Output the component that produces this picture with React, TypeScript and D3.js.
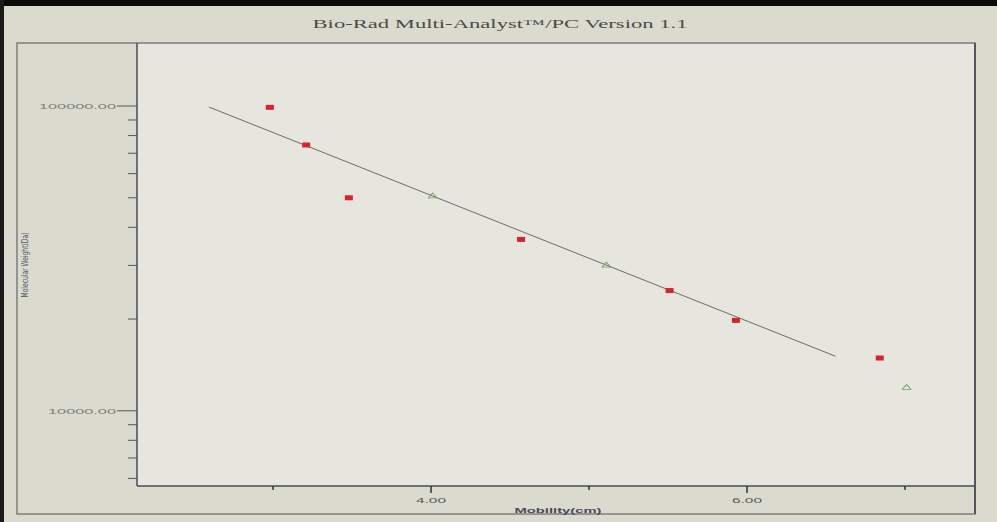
import React from 'react';
import * as d3 from 'd3';

// standards (red squares): mobility (cm) vs molecular weight (Da)
const standardMobility = [2.98, 3.21, 3.48, 4.57, 5.51, 5.93, 6.84];
const standardWeight = [99000, 74500, 50000, 36500, 24800, 19800, 14900];

// unknowns (green triangles) placed on the fit
const unknownMobility = [4.01, 5.11, 7.01];
const unknownWeight = [50600, 30000, 11900];

// regression line end points
const fitMobility = [2.595, 6.56];
const fitWeight = [99200, 15100];

const xMajorTicks = [4, 6];
const xMinorTicks = [3, 5, 7];
const yMajorTicks = [10000, 100000];
const yMinorTicks = [6000, 7000, 8000, 9000, 20000, 30000, 40000, 50000, 60000, 70000, 80000, 90000];

const W = 997;
const H = 522;
const left = 137, right = 975, top = 43, bottom = 486;

export default function App() {
  const x = d3.scaleLinear().domain([2.139, 7.443]).range([left, right]);
  const y = d3.scaleLog().domain([5665, 161000]).range([bottom, top]);

  const fitLine = d3.line<number>()
    .x((d, i) => x(fitMobility[i]))
    .y(d => y(d));

  const tri = d3.symbol().type(d3.symbolTriangle).size(22);

  return (
    <svg width={W} height={H} style={{ position: 'absolute', left: 0, top: 0 }}>
      <rect x={0} y={0} width={W} height={H} fill="#dadbce" />
      <rect x={0} y={0} width={W} height={6} fill="#0a0a0a" />
      <rect x={0} y={0} width={4} height={H} fill="#1a1a1a" />
      {/* plot interior */}
      <rect x={left} y={top} width={right - left} height={bottom - top} fill="#e6e6de" />
      {/* outer frame */}
      <rect x={17} y={top} width={right - 17} height={514 - top} fill="none" stroke="#7e7e7a" strokeWidth={1.5} />
      <line x1={right} x2={right} y1={top} y2={514} stroke="#55555e" strokeWidth={2} />

      <text x={500} y={28} textAnchor="middle" fontFamily="'Liberation Serif', serif" fontSize={12}
        fill="#4a4a48" textLength={375} lengthAdjust="spacingAndGlyphs">
        Bio-Rad Multi-Analyst™/PC Version 1.1
      </text>

      {/* axes */}
      <line x1={left} x2={left} y1={top} y2={bottom} stroke="#4a4a5a" strokeWidth={1.5} />
      <line x1={left} x2={right} y1={bottom} y2={bottom} stroke="#4a4a5a" strokeWidth={1.5} />

      {yMajorTicks.map(t => (
        <g key={'ym' + t}>
          <line x1={117} x2={left} y1={y(t)} y2={y(t)} stroke="#55555e" strokeWidth={1} />
          <text x={116} y={y(t) + 3} textAnchor="end" fontFamily="'Liberation Sans', sans-serif" fontSize={8}
            fill="#7c7c7c" textLength={t === 100000 ? 77 : 68} lengthAdjust="spacingAndGlyphs">
            {d3.format('.2f')(t)}
          </text>
        </g>
      ))}
      {yMinorTicks.map(t => (
        <line key={'yn' + t} x1={128} x2={left} y1={y(t)} y2={y(t)} stroke="#55555e" strokeWidth={1} />
      ))}

      {xMajorTicks.map(t => (
        <g key={'xm' + t}>
          <line x1={x(t)} x2={x(t)} y1={bottom} y2={bottom + 7} stroke="#33333a" strokeWidth={1.5} />
          <text x={x(t)} y={503} textAnchor="middle" fontFamily="'Liberation Sans', sans-serif" fontSize={8}
            fill="#55555a" textLength={30} lengthAdjust="spacingAndGlyphs">
            {d3.format('.2f')(t)}
          </text>
        </g>
      ))}
      {xMinorTicks.map(t => (
        <line key={'xn' + t} x1={x(t)} x2={x(t)} y1={bottom} y2={bottom + 4} stroke="#33333a" strokeWidth={1.5} />
      ))}

      <text x={558} y={513} textAnchor="middle" fontFamily="'Liberation Sans', sans-serif" fontSize={8}
        fontWeight="bold" fill="#4a4a55" textLength={87} lengthAdjust="spacingAndGlyphs">
        Mobility(cm)
      </text>
      <text transform="translate(28,265) rotate(-90)" textAnchor="middle"
        fontFamily="'Liberation Sans Narrow', 'DejaVu Sans Condensed', sans-serif" fontSize={8}
        fill="#55556a" textLength={65} lengthAdjust="spacingAndGlyphs">
        Molecular Weight(Da)
      </text>

      {/* fit line */}
      <path d={fitLine(fitWeight) || ''} fill="none" stroke="#6d6d60" strokeWidth={1} />

      {standardMobility.map((m, i) => (
        <rect key={'s' + i} x={x(m) - 4} y={y(standardWeight[i]) - 2.5} width={8} height={5} fill="#d8232c" />
      ))}
      {unknownMobility.map((m, i) => (
        <path key={'u' + i} d={tri() || ''} transform={`translate(${x(m)},${y(unknownWeight[i])}) scale(1.2,0.8)`}
          fill="none" stroke="#6f9d62" strokeWidth={0.9} />
      ))}
    </svg>
  );
}
